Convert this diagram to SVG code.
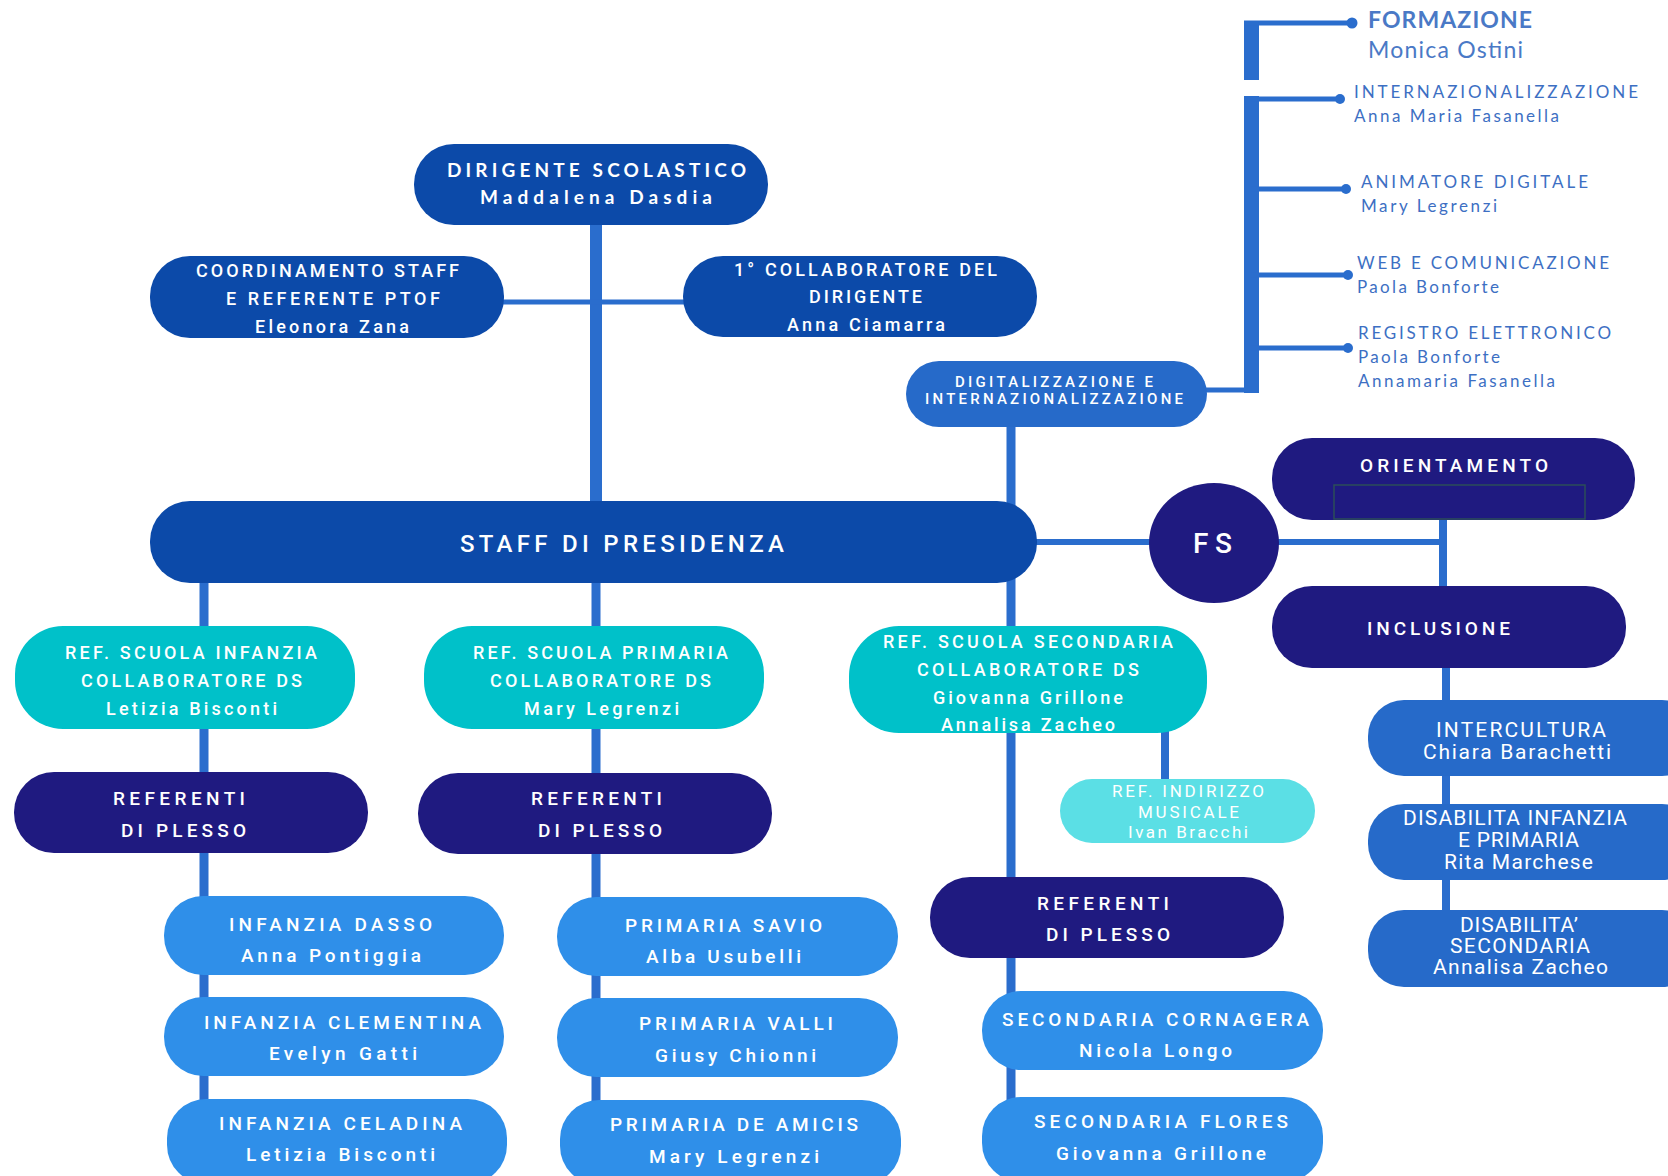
<svg xmlns="http://www.w3.org/2000/svg" width="1668" height="1176" viewBox="0 0 1668 1176">
<style>
.bg{fill:#ffffff}
.royal{fill:#0c4aa9}
.navy{fill:#1f1a80}
.teal{fill:#00c1c9}
.cyan{fill:#5bdfe5}
.leaf{fill:#2f8fe9}
.mid{fill:#266ac9}
.ln{stroke:#2a6dcd;fill:none}
.dot{fill:#2a6dcd}
.t{fill:#ffffff;font-family:Roboto,"Liberation Sans",sans-serif;font-weight:500}
.s18{font-size:18px}
.s19{font-size:19px}
.s20{font-size:20px}
.d{fill:#ffffff;font-family:Lato,"Liberation Sans",sans-serif;font-weight:700;font-size:19px}
.q{fill:#ffffff;font-family:Roboto,"Liberation Sans",sans-serif;font-size:21px}
.tr{fill:#3d6fc3;font-family:Lato,"Liberation Sans",sans-serif;font-size:17px}
.trb{fill:#4a79c6;font-family:Lato,"Liberation Sans",sans-serif;font-size:23px;font-weight:700}
</style>
<rect class="bg" x="0" y="0" width="1668" height="1176"/>

<g id="connectors">
  <line class="ln" x1="596" y1="220" x2="596" y2="505" stroke-width="12"/>
  <line class="ln" x1="500" y1="302" x2="690" y2="302" stroke-width="5"/>
  <line class="ln" x1="204" y1="580" x2="204" y2="1140" stroke-width="9"/>
  <line class="ln" x1="596" y1="580" x2="596" y2="1140" stroke-width="9"/>
  <line class="ln" x1="1011" y1="420" x2="1011" y2="1140" stroke-width="9"/>
  <line class="ln" x1="1165" y1="728" x2="1165" y2="784" stroke-width="8"/>
  <line class="ln" x1="1030" y1="542" x2="1160" y2="542" stroke-width="6"/>
  <line class="ln" x1="1270" y1="542" x2="1447" y2="542" stroke-width="6"/>
  <line class="ln" x1="1443" y1="515" x2="1443" y2="592" stroke-width="8"/>
  <line class="ln" x1="1446" y1="664" x2="1446" y2="916" stroke-width="8"/>
  <line class="ln" x1="1200" y1="390" x2="1258" y2="390" stroke-width="5"/>
  <line class="ln" x1="1251.5" y1="96" x2="1251.5" y2="393" stroke-width="15"/>
  <line class="ln" x1="1251" y1="99" x2="1340" y2="99" stroke-width="5"/>
  <circle class="dot" cx="1340" cy="99" r="5"/>
  <line class="ln" x1="1251" y1="189" x2="1346" y2="189" stroke-width="5"/>
  <circle class="dot" cx="1346" cy="189" r="5"/>
  <line class="ln" x1="1251" y1="275" x2="1348" y2="275" stroke-width="5"/>
  <circle class="dot" cx="1348" cy="275" r="5"/>
  <line class="ln" x1="1251" y1="348" x2="1348" y2="348" stroke-width="5"/>
  <circle class="dot" cx="1348" cy="348" r="5"/>
  <line class="ln" x1="1251.5" y1="21" x2="1251.5" y2="80" stroke-width="15"/>
  <line class="ln" x1="1244" y1="23" x2="1352" y2="23" stroke-width="5"/>
  <circle class="dot" cx="1352" cy="23" r="5.5"/>
</g>

<g id="n-dirigente">
  <rect class="royal" x="414" y="144" width="354" height="81" rx="40"/>
  <text class="d" x="447" y="177" textLength="299" lengthAdjust="spacing">DIRIGENTE SCOLASTICO</text>
  <text class="d" x="480" y="204" textLength="232" lengthAdjust="spacing">Maddalena Dasdia</text>
</g>
<g id="n-coordinamento">
  <rect class="royal" x="150" y="256" width="354" height="82" rx="40"/>
  <text class="t s18" x="196" y="277" textLength="263" lengthAdjust="spacing">COORDINAMENTO STAFF</text>
  <text class="t s18" x="226" y="305" textLength="214" lengthAdjust="spacing">E REFERENTE PTOF</text>
  <text class="t s18" x="255" y="333" textLength="154" lengthAdjust="spacing">Eleonora Zana</text>
</g>
<g id="n-collaboratore">
  <rect class="royal" x="683" y="256" width="354" height="81" rx="40"/>
  <text class="t s18" x="734" y="276" textLength="263" lengthAdjust="spacing">1° COLLABORATORE DEL</text>
  <text class="t s18" x="809" y="303" textLength="113" lengthAdjust="spacing">DIRIGENTE</text>
  <text class="t s18" x="787" y="331" textLength="158" lengthAdjust="spacing">Anna Ciamarra</text>
</g>
<g id="n-digitalizzazione">
  <rect class="mid" x="906" y="361" width="301" height="66" rx="33"/>
  <text class="t" style="font-size:15px" x="955" y="387" textLength="198" lengthAdjust="spacing">DIGITALIZZAZIONE E</text>
  <text class="t" style="font-size:15px" x="925" y="404" textLength="258" lengthAdjust="spacing">INTERNAZIONALIZZAZIONE</text>
</g>
<g id="n-staff">
  <rect class="royal" x="150" y="501" width="887" height="82" rx="40"/>
  <text class="t" style="font-size:24px" x="460" y="552" textLength="324" lengthAdjust="spacing">STAFF DI PRESIDENZA</text>
</g>
<g id="n-fs">
  <ellipse class="navy" cx="1214" cy="543" rx="65" ry="60"/>
  <text class="t" style="font-size:28px" x="1193" y="553" textLength="39" lengthAdjust="spacing">FS</text>
</g>
<g id="n-orientamento">
  <rect class="navy" x="1272" y="438" width="363" height="82" rx="40"/>
  <text class="t s19" x="1360" y="472" textLength="188" lengthAdjust="spacing">ORIENTAMENTO</text>
  <rect x="1334" y="485" width="251" height="34" fill="none" stroke="#2c4e58" stroke-width="1.5"/>
</g>
<g id="n-inclusione">
  <rect class="navy" x="1272" y="586" width="354" height="82" rx="40"/>
  <text class="t s19" x="1367" y="635" textLength="143" lengthAdjust="spacing">INCLUSIONE</text>
</g>
<g id="n-intercultura">
  <rect class="mid" x="1368" y="700" width="330" height="76" rx="36"/>
  <text class="q" x="1436" y="737" textLength="170" lengthAdjust="spacing">INTERCULTURA</text>
  <text class="q" x="1423" y="759" textLength="188" lengthAdjust="spacing">Chiara Barachetti</text>
</g>
<g id="n-disabilita-infanzia">
  <rect class="mid" x="1368" y="804" width="330" height="76" rx="36"/>
  <text class="q" x="1403" y="825" textLength="224" lengthAdjust="spacing">DISABILITA INFANZIA</text>
  <text class="q" x="1458" y="847" textLength="121" lengthAdjust="spacing">E PRIMARIA</text>
  <text class="q" x="1444" y="869" textLength="149" lengthAdjust="spacing">Rita Marchese</text>
</g>
<g id="n-disabilita-secondaria">
  <rect class="mid" x="1368" y="910" width="330" height="77" rx="36"/>
  <text class="q" x="1460" y="932" textLength="118" lengthAdjust="spacing">DISABILITA’</text>
  <text class="q" x="1450" y="953" textLength="140" lengthAdjust="spacing">SECONDARIA</text>
  <text class="q" x="1433" y="974" textLength="175" lengthAdjust="spacing">Annalisa Zacheo</text>
</g>
<g id="n-ref-infanzia">
  <rect class="teal" x="15" y="626" width="340" height="103" rx="48"/>
  <text class="t s18" x="65" y="659" textLength="252" lengthAdjust="spacing">REF. SCUOLA INFANZIA</text>
  <text class="t s18" x="81" y="687" textLength="221" lengthAdjust="spacing">COLLABORATORE DS</text>
  <text class="t s18" x="106" y="715" textLength="171" lengthAdjust="spacing">Letizia Bisconti</text>
</g>
<g id="n-ref-primaria">
  <rect class="teal" x="424" y="626" width="340" height="103" rx="48"/>
  <text class="t s18" x="473" y="659" textLength="255" lengthAdjust="spacing">REF. SCUOLA PRIMARIA</text>
  <text class="t s18" x="490" y="687" textLength="221" lengthAdjust="spacing">COLLABORATORE DS</text>
  <text class="t s18" x="524" y="715" textLength="155" lengthAdjust="spacing">Mary Legrenzi</text>
</g>
<g id="n-ref-secondaria">
  <rect class="teal" x="849" y="626" width="358" height="107" rx="50"/>
  <text class="t s18" x="883" y="648" textLength="290" lengthAdjust="spacing">REF. SCUOLA SECONDARIA</text>
  <text class="t s18" x="917" y="676" textLength="222" lengthAdjust="spacing">COLLABORATORE DS</text>
  <text class="t s18" x="933" y="704" textLength="190" lengthAdjust="spacing">Giovanna Grillone</text>
  <text class="t s18" x="941" y="731" textLength="174" lengthAdjust="spacing">Annalisa Zacheo</text>
</g>
<g id="n-musicale">
  <rect class="cyan" x="1060" y="779" width="255" height="64" rx="32"/>
  <text class="q" style="font-size:17px" x="1112" y="797" textLength="152" lengthAdjust="spacing">REF. INDIRIZZO</text>
  <text class="q" style="font-size:17px" x="1138" y="818" textLength="101" lengthAdjust="spacing">MUSICALE</text>
  <text class="q" style="font-size:17px" x="1128" y="838" textLength="120" lengthAdjust="spacing">Ivan Bracchi</text>
</g>
<g id="n-referenti-1">
  <rect class="navy" x="14" y="772" width="354" height="81" rx="40"/>
  <text class="t s19" x="113" y="805" textLength="132" lengthAdjust="spacing">REFERENTI</text>
  <text class="t s19" x="121" y="837" textLength="125" lengthAdjust="spacing">DI PLESSO</text>
</g>
<g id="n-referenti-2">
  <rect class="navy" x="418" y="773" width="354" height="81" rx="40"/>
  <text class="t s19" x="531" y="805" textLength="131" lengthAdjust="spacing">REFERENTI</text>
  <text class="t s19" x="538" y="837" textLength="124" lengthAdjust="spacing">DI PLESSO</text>
</g>
<g id="n-referenti-3">
  <rect class="navy" x="930" y="877" width="354" height="81" rx="40"/>
  <text class="t s19" x="1037" y="910" textLength="132" lengthAdjust="spacing">REFERENTI</text>
  <text class="t s19" x="1046" y="941" textLength="124" lengthAdjust="spacing">DI PLESSO</text>
</g>
<g id="n-infanzia-dasso">
  <rect class="leaf" x="164" y="896" width="340" height="79" rx="39"/>
  <text class="t s19" x="229" y="931" textLength="203" lengthAdjust="spacing">INFANZIA DASSO</text>
  <text class="t s19" x="241" y="962" textLength="180" lengthAdjust="spacing">Anna Pontiggia</text>
</g>
<g id="n-infanzia-clementina">
  <rect class="leaf" x="164" y="997" width="340" height="79" rx="39"/>
  <text class="t s19" x="204" y="1029" textLength="277" lengthAdjust="spacing">INFANZIA CLEMENTINA</text>
  <text class="t s19" x="269" y="1060" textLength="148" lengthAdjust="spacing">Evelyn Gatti</text>
</g>
<g id="n-infanzia-celadina">
  <rect class="leaf" x="167" y="1099" width="340" height="85" rx="39"/>
  <text class="t s19" x="219" y="1130" textLength="243" lengthAdjust="spacing">INFANZIA CELADINA</text>
  <text class="t s19" x="246" y="1161" textLength="189" lengthAdjust="spacing">Letizia Bisconti</text>
</g>
<g id="n-primaria-savio">
  <rect class="leaf" x="557" y="897" width="341" height="79" rx="39"/>
  <text class="t s19" x="625" y="932" textLength="197" lengthAdjust="spacing">PRIMARIA SAVIO</text>
  <text class="t s19" x="646" y="963" textLength="155" lengthAdjust="spacing">Alba Usubelli</text>
</g>
<g id="n-primaria-valli">
  <rect class="leaf" x="557" y="998" width="341" height="79" rx="39"/>
  <text class="t s19" x="639" y="1030" textLength="194" lengthAdjust="spacing">PRIMARIA VALLI</text>
  <text class="t s19" x="655" y="1062" textLength="161" lengthAdjust="spacing">Giusy Chionni</text>
</g>
<g id="n-primaria-deamicis">
  <rect class="leaf" x="560" y="1100" width="341" height="85" rx="39"/>
  <text class="t s19" x="610" y="1131" textLength="248" lengthAdjust="spacing">PRIMARIA DE AMICIS</text>
  <text class="t s19" x="649" y="1163" textLength="170" lengthAdjust="spacing">Mary Legrenzi</text>
</g>
<g id="n-secondaria-cornagera">
  <rect class="leaf" x="982" y="991" width="341" height="79" rx="39"/>
  <text class="t s19" x="1002" y="1026" textLength="307" lengthAdjust="spacing">SECONDARIA CORNAGERA</text>
  <text class="t s19" x="1079" y="1057" textLength="153" lengthAdjust="spacing">Nicola Longo</text>
</g>
<g id="n-secondaria-flores">
  <rect class="leaf" x="982" y="1097" width="341" height="85" rx="39"/>
  <text class="t s19" x="1034" y="1128" textLength="254" lengthAdjust="spacing">SECONDARIA FLORES</text>
  <text class="t s19" x="1056" y="1160" textLength="210" lengthAdjust="spacing">Giovanna Grillone</text>
</g>

<g id="n-formazione">
  <text class="trb" x="1368" y="28" textLength="164" lengthAdjust="spacing">FORMAZIONE</text>
  <text class="trb" style="font-weight:400" x="1368" y="58" textLength="155" lengthAdjust="spacing">Monica Ostini</text>
</g>
<g id="n-internazionalizzazione">
  <text class="tr" x="1354" y="98" textLength="284" lengthAdjust="spacing">INTERNAZIONALIZZAZIONE</text>
  <text class="tr" x="1354" y="122" textLength="205" lengthAdjust="spacing">Anna Maria Fasanella</text>
</g>
<g id="n-animatore">
  <text class="tr" x="1361" y="188" textLength="227" lengthAdjust="spacing">ANIMATORE DIGITALE</text>
  <text class="tr" x="1361" y="212" textLength="136" lengthAdjust="spacing">Mary Legrenzi</text>
</g>
<g id="n-web">
  <text class="tr" x="1357" y="269" textLength="252" lengthAdjust="spacing">WEB E COMUNICAZIONE</text>
  <text class="tr" x="1357" y="293" textLength="142" lengthAdjust="spacing">Paola Bonforte</text>
</g>
<g id="n-registro">
  <text class="tr" x="1358" y="339" textLength="253" lengthAdjust="spacing">REGISTRO ELETTRONICO</text>
  <text class="tr" x="1358" y="363" textLength="142" lengthAdjust="spacing">Paola Bonforte</text>
  <text class="tr" x="1358" y="387" textLength="197" lengthAdjust="spacing">Annamaria Fasanella</text>
</g>
</svg>
